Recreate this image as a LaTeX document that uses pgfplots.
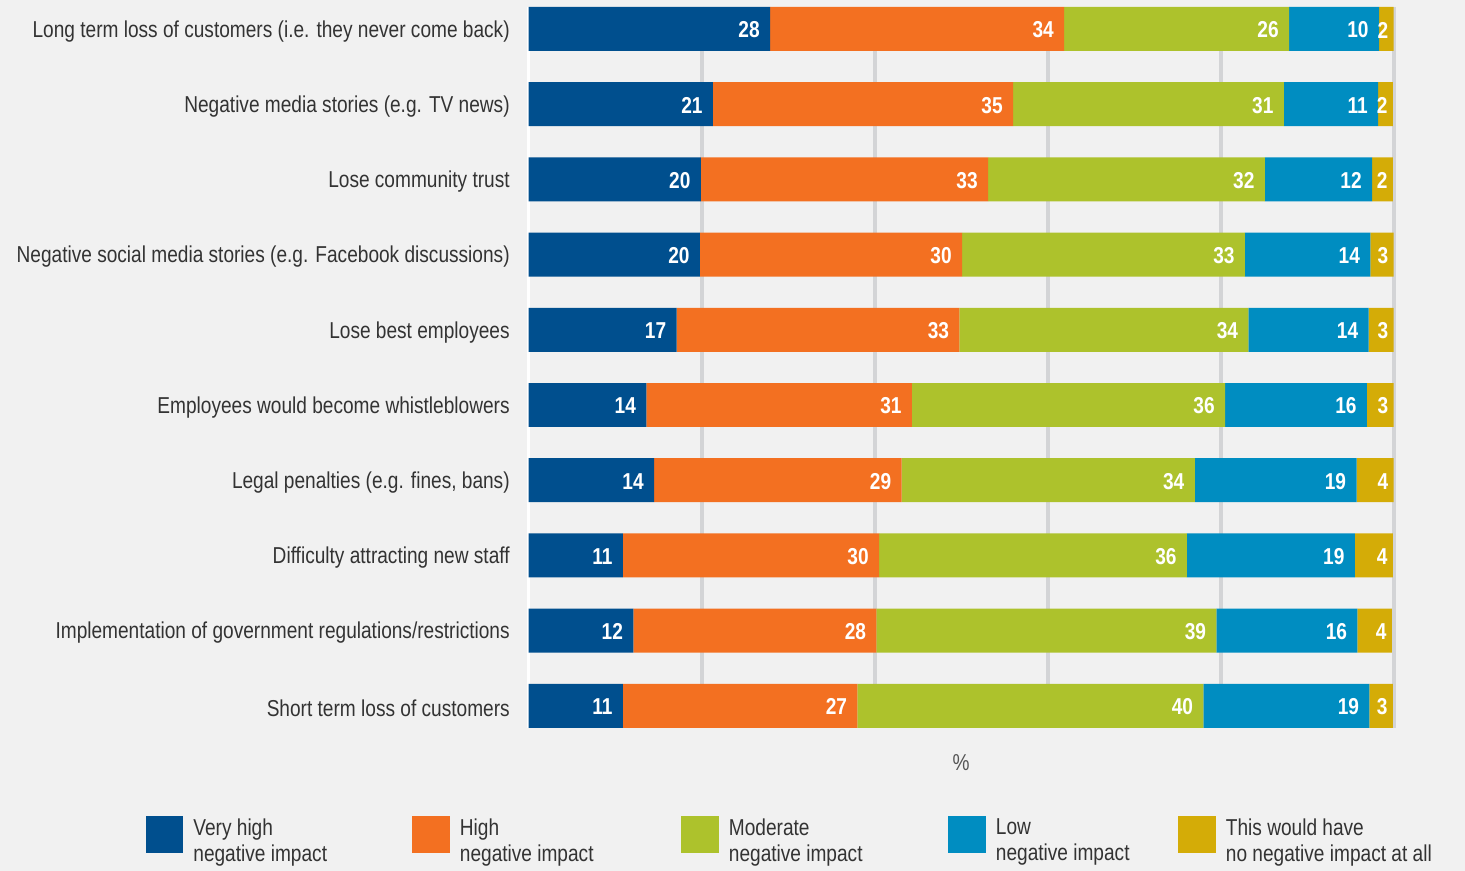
\documentclass[border=0pt]{standalone}
\usepackage{fontspec}
\setmainfont{Liberation Sans}[FakeStretch=0.83]
\usepackage{pgfplots}
\usepackage{pgfplotstable}
\pgfplotsset{compat=1.18}
\definecolor{cvh}{HTML}{004F8E}
\definecolor{ch}{HTML}{F37021}
\definecolor{cm}{HTML}{ADC22C}
\definecolor{cl}{HTML}{008DC1}
\definecolor{cn}{HTML}{D4AC07}
\definecolor{bgc}{HTML}{F1F1F1}
\definecolor{gridc}{HTML}{D3D4D6}
\definecolor{textc}{HTML}{333333}
\definecolor{pctc}{HTML}{555555}

\pgfplotstableread{
row vh vhl h hl m ml l ll n nl
0 27.9 28 34.0 34 26.0 26 10.4 10 1.7 2
1 21.3 21 34.7 35 31.3 31 10.9 11 1.7 2
2 19.9 20 33.2 33 32.0 32 12.4 12 2.4 2
3 19.8 20 30.3 30 32.7 33 14.5 14 2.7 3
4 17.1 17 32.7 33 33.4 34 13.9 14 2.9 3
5 13.6 14 30.7 31 36.2 36 16.4 16 3.1 3
6 14.5 14 28.6 29 33.9 34 18.7 19 4.3 4
7 10.9 11 29.6 30 35.6 36 19.4 19 4.4 4
8 12.1 12 28.1 28 39.3 39 16.3 16 4.0 4
9 10.9 11 27.1 27 40.0 40 19.2 19 2.7 3
}\datatable

\begin{document}
\begin{tikzpicture}[x=1pt,y=1pt]
\fill[bgc] (0,0) rectangle (732.5,435.5);
\begin{axis}[
  at={(264.35pt,71.6pt)}, anchor=south west,
  scale only axis, width=432.5pt, height=360.4pt,
  xbar stacked, bar width=0.585,
  xmin=0, xmax=100, ymin=-0.2925, ymax=9.2925, y dir=reverse,
  axis line style={draw=none},
  major tick length=0pt,
  xtick={20,40,60,80,100}, xticklabels={},
  xmajorgrids, grid style={gridc, line width=2pt},
  extra x ticks={0}, extra x tick labels={},
  extra x tick style={grid style={white, line width=1.5pt}},
  ytick={0,...,9},
  yticklabels={Long term loss of customers (i.e. they never come back),
    Negative media stories (e.g. TV news),
    Lose community trust,
    Negative social media stories (e.g. Facebook discussions),
    Lose best employees,
    Employees would become whistleblowers,
    {Legal penalties (e.g. fines, bans)},
    Difficulty attracting new staff,
    Implementation of government regulations/restrictions,
    Short term loss of customers},
  yticklabel style={inner sep=0pt, xshift=-9.3pt, yshift=-1.2pt, text=textc, font=\fontsize{11.5}{13}\selectfont},
  xlabel={\%},
  xlabel style={at={(axis description cs:0.5,0)}, anchor=center, yshift=-17.5pt, text=pctc, font=\fontsize{11.5}{13}\selectfont},
  point meta=explicit symbolic,
  nodes near coords={\pgfplotspointmeta},
  every node near coord/.append style={anchor=east, xshift={\segw*2.1625pt-5pt}, yshift=-0.5pt, text=white, inner sep=0pt, font=\fontsize{11.5}{13}\selectfont\bfseries},
  legend columns=5,
  legend cell align=left,
  legend style={at={(-0.443,-0.1224)}, anchor=north west, draw=none, fill=none, inner sep=0pt,
    nodes={inner sep=0pt, text=textc, font=\fontsize{11.5}{13}\selectfont},
    /tikz/every odd column/.append style={column sep=5pt}},
  legend image code/.code={\fill[#1] (0pt,-9.25pt) rectangle (18.75pt,9.25pt);},
]
\addplot[fill=cvh, draw=none, visualization depends on={\thisrow{vh} \as \segw}] table[x=vh, y=row, meta=vhl] {\datatable};
\addplot[fill=ch, draw=none, visualization depends on={\thisrow{h} \as \segw}] table[x=h, y=row, meta=hl] {\datatable};
\addplot[fill=cm, draw=none, visualization depends on={\thisrow{m} \as \segw}] table[x=m, y=row, meta=ml] {\datatable};
\addplot[fill=cl, draw=none, visualization depends on={\thisrow{l} \as \segw}] table[x=l, y=row, meta=ll] {\datatable};
\addplot[fill=cn, draw=none, visualization depends on={\thisrow{n} \as \segw}, every node near coord/.append style={xshift=2.5pt}] table[x=n, y=row, meta=nl] {\datatable};
\legend{\parbox[c]{109.5pt}{Very high\\negative impact},
  \parbox[c]{110.75pt}{High\\negative impact},
  \parbox[c]{109.75pt}{Moderate\\negative impact},
  \parbox[c]{91.25pt}{Low\\negative impact},
  \parbox[c]{110pt}{This would have\\no negative impact at all}}
\end{axis}
\pgfresetboundingbox
\path[use as bounding box] (0,0) rectangle (732.5,435.5);
\end{tikzpicture}
\end{document}
